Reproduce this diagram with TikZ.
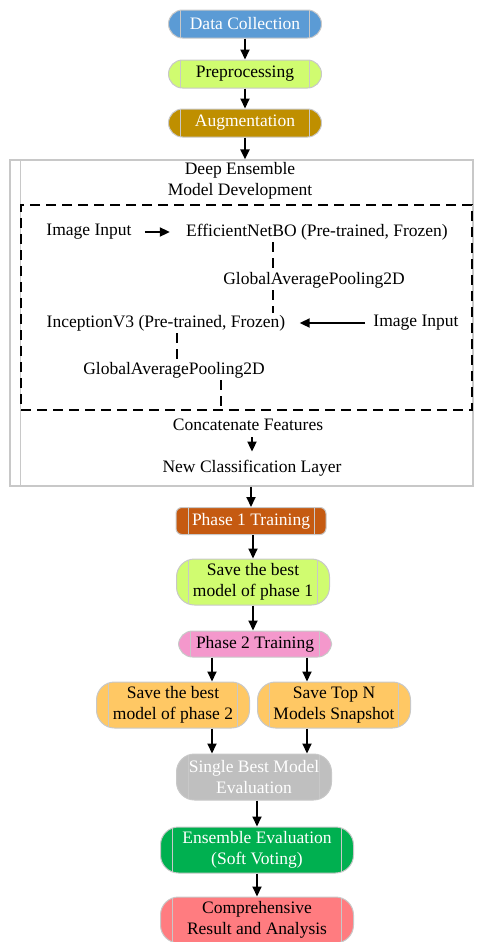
\documentclass[tikz,border=0pt]{standalone}
\usepackage{fontspec}
\setmainfont{Liberation Serif}
\usetikzlibrary{positioning, arrows.meta}
\definecolor{dcblue}{RGB}{91,155,213}
\definecolor{lime}{RGB}{208,252,112}
\definecolor{gold}{RGB}{191,143,0}
\definecolor{rust}{RGB}{197,90,17}
\definecolor{pinky}{RGB}{244,152,204}
\definecolor{peach}{RGB}{255,200,100}
\definecolor{ash}{RGB}{191,191,191}
\definecolor{leaf}{RGB}{0,176,80}
\definecolor{salmon}{RGB}{255,124,128}
\definecolor{edgegray}{RGB}{200,200,200}
\tikzset{
    >={Triangle[length=5pt,width=4.5pt]}, % arrow heads
    flow/.style={->, line width=1pt}, % black connectors
    txt/.style={font=\fontsize{8.75pt}{10.5pt}\selectfont, inner sep=1pt, align=center},
    stage/.style={txt, draw=edgegray, line width=0.5pt, rounded corners=7pt,
        minimum width=76.5pt, minimum height=14pt,
        path picture={
            \draw[edgegray, line width=0.5pt] ([xshift=6pt]path picture bounding box.north west) -- ([xshift=6pt]path picture bounding box.south west);
            \draw[edgegray, line width=0.5pt] ([xshift=-6pt]path picture bounding box.north east) -- ([xshift=-6pt]path picture bounding box.south east);
        }},
    tall/.style={minimum height=23pt, rounded corners=9pt}, % two line stages
    tie/.style={line width=1.2pt, dash pattern=on 5pt off 3pt}, % dashed links
}

\begin{document}
\begin{tikzpicture}[x=0.5pt, y={(0pt,-0.5pt)}]
\useasboundingbox (0,0) rectangle (479,942);

% top stages
\node[stage, fill=dcblue, text=white] (dc) at (245,24) {Data Collection};
\node[stage, fill=lime] (pre) at (245,74) {Preprocessing};
\node[stage, fill=gold, text=white] (aug) at (245,123) {Augmentation};

% model development block
\node[draw=edgegray, line width=0.6pt, minimum width=231.5pt, minimum height=163pt, inner sep=0pt] (dev) at (241.5,323) {};
\draw[edgegray, line width=0.5pt] ([xshift=5.5pt]dev.north west) -- ([xshift=5.5pt]dev.south west);
\node[txt] (title) at (240,181) {Deep Ensemble\\Model Development};
\node[tie, draw, minimum width=225.5pt, minimum height=102.5pt, inner sep=0pt] (ensbox) at (246.5,307.5) {};

\node[txt] (inL) at (89,232) {Image Input};
\node[txt] (eff) at (317,232) {EfficientNetBO (Pre-trained, Frozen)};
\node[txt] (gapA) at (314,280) {GlobalAveragePooling2D};
\node[txt] (inc) at (166,323) {InceptionV3 (Pre-trained, Frozen)};
\node[txt] (inR) at (416,323) {Image Input};
\node[txt] (gapB) at (174,370) {GlobalAveragePooling2D};
\node[txt] (concat) at (248,425) {Concatenate Features};
\node[txt] (ncl) at (252,468) {New Classification Layer};

\coordinate (ax) at (273,0);
\coordinate (bx) at (177,0);
\coordinate (cx) at (221,0);

\draw[flow, shorten <=5.5pt, shorten >=7pt] (inL.east) -- (eff.west);
\draw[flow, shorten <=3pt, shorten >=6pt] (inR.west) -- (inc.east);
\draw[tie] (ax |- eff.south) -- (ax |- gapA.north);
\draw[tie] (ax |- gapA.south) -- (ax |- inc.north);
\draw[tie] (bx |- inc.south) -- (bx |- gapB.north);
\draw[tie] (cx |- gapB.south) -- (cx |- ensbox.south);
\draw[flow, shorten <=2pt, shorten >=3pt] (ncl.north |- concat.south) -- (ncl.north);

% training stages
\node[stage, fill=rust, text=white, rounded corners=3pt, minimum width=75pt, minimum height=13.5pt] (p1) at (251,521) {Phase 1 Training};
\node[stage, tall, fill=lime] (s1) at (253,582) {Save the best\\model of phase 1};
\node[stage, fill=pinky, minimum height=13pt] (p2) at (255,644) {Phase 2 Training};
\node[stage, tall, fill=peach] (s2a) at (173,705) {Save the best\\model of phase 2};
\node[stage, tall, fill=peach] (s2b) at (334,705) {Save Top N\\Models Snapshot};
\node[stage, tall, fill=ash, text=white, minimum width=77.5pt] (sbm) at (254,777) {Single Best Model\\Evaluation};
\node[stage, tall, fill=leaf, text=white, minimum width=96.5pt] (ev) at (257,850) {Ensemble Evaluation\\(Soft Voting)};
\node[stage, tall, fill=salmon, minimum width=96.5pt] (comp) at (257,920) {Comprehensive\\Result and Analysis};

% arrows
\draw[flow] (dc) -- (pre);
\draw[flow] (pre) -- (aug);
\draw[flow] (aug.south) -- (aug.south |- dev.north);
\draw[flow] (p1.north |- dev.south) -- (p1.north);
\draw[flow] (p1.south -| s1.north) -- (s1.north);
\draw[flow] (s1) -- (s1.south |- p2.north);
\draw[flow] ([xshift=-21.5pt]p2.south) -- ([xshift=-21.5pt]p2.south |- s2a.north);
\draw[flow] ([xshift=26pt]p2.south) -- ([xshift=26pt]p2.south |- s2b.north);
\draw[flow] ([xshift=19.5pt]s2a.south) -- ([xshift=19.5pt]s2a.south |- sbm.north);
\draw[flow] ([xshift=-13.5pt]s2b.south) -- ([xshift=-13.5pt]s2b.south |- sbm.north);
\draw[flow] (ev.north |- sbm.south) -- (ev.north);
\draw[flow] (ev.south) -- (comp.north);
\end{tikzpicture}
\end{document}
